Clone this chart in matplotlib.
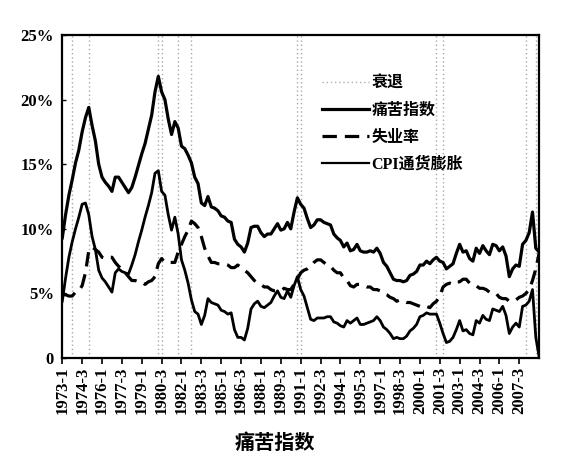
import matplotlib
matplotlib.use("Agg")
import matplotlib.pyplot as plt
from matplotlib.lines import Line2D
from matplotlib.ticker import FuncFormatter

plt.rcParams['font.family'] = ['Liberation Serif', 'Noto Sans CJK SC', 'DejaVu Sans']

# quarterly data, 1973-1 .. 2009-1
start_year, end_year = 1973, 2009
quarters = [f"{y}-{q}" for y in range(start_year, end_year + 1) for q in range(1, 5)][:145]

# unemployment rate (%)
unemployment = [
    4.9, 4.9, 4.8, 4.8,   5.1, 5.2, 5.6, 6.6,   8.3, 8.6, 8.4, 8.2,   7.8, 7.7, 7.8, 7.8,
    7.4, 7.1, 6.9, 6.6,   6.3, 6.0, 6.0, 5.9,   5.9, 5.7, 5.9, 6.0,   6.3, 7.3, 7.7, 7.4,
    7.4, 7.4, 7.4, 8.2,   8.8, 9.4, 9.9, 10.6,  10.4, 10.1, 9.4, 8.5,  7.9, 7.4, 7.4, 7.3,
    7.3, 7.3, 7.2, 7.0,   7.0, 7.2, 7.0, 6.8,   6.6, 6.3, 6.0, 5.8,   5.7, 5.5, 5.5, 5.3,
    5.2, 5.2, 5.2, 5.4,   5.3, 5.3, 5.7, 6.1,   6.6, 6.8, 6.9, 7.1,   7.4, 7.6, 7.6, 7.4,
    7.2, 7.1, 6.8, 6.6,   6.6, 6.2, 6.0, 5.6,   5.5, 5.7, 5.7, 5.6,   5.5, 5.5, 5.3, 5.3,
    5.2, 5.0, 4.9, 4.7,   4.6, 4.4, 4.5, 4.4,   4.3, 4.3, 4.2, 4.1,   4.0, 3.9, 4.0, 3.9,
    4.2, 4.4, 4.8, 5.5,   5.7, 5.8, 5.7, 5.9,   5.9, 6.1, 6.1, 5.8,   5.7, 5.6, 5.4, 5.4,
    5.3, 5.1, 5.0, 5.0,   4.7, 4.6, 4.6, 4.4,   4.5, 4.5, 4.7, 4.8,   5.0, 5.3, 6.0, 6.9,
    8.1,
]

# CPI inflation (%)
cpi = [
    4.4, 6.2, 7.8, 9.0,   10.0, 10.9, 11.9, 12.0,  11.1, 9.4, 8.4, 6.8,   6.2, 5.9, 5.5, 5.1,
    6.6, 6.9, 6.7, 6.6,   6.5, 7.2, 8.0, 9.0,   9.9, 10.9, 11.8, 12.8,  14.3, 14.5, 12.9, 12.6,
    11.1, 9.9, 10.9, 9.6,  7.6, 6.8, 5.8, 4.5,   3.6, 3.4, 2.6, 3.3,   4.6, 4.3, 4.2, 4.1,
    3.7, 3.6, 3.4, 3.5,   2.2, 1.6, 1.6, 1.4,   2.3, 3.8, 4.2, 4.4,   4.0, 3.9, 4.1, 4.3,
    4.8, 5.2, 4.7, 4.6,   5.2, 4.7, 5.6, 6.3,   5.3, 4.8, 3.9, 3.0,   2.9, 3.1, 3.1, 3.1,
    3.2, 3.2, 2.8, 2.7,   2.5, 2.4, 2.9, 2.7,   2.9, 3.1, 2.6, 2.6,   2.7, 2.8, 2.9, 3.2,
    2.9, 2.4, 2.2, 1.9,   1.5, 1.6, 1.5, 1.5,   1.7, 2.1, 2.3, 2.6,   3.2, 3.3, 3.5, 3.4,
    3.4, 3.4, 2.7, 1.9,   1.2, 1.3, 1.6, 2.2,   2.9, 2.1, 2.2, 1.9,   1.8, 2.9, 2.7, 3.3,
    3.0, 2.9, 3.8, 3.7,   3.6, 4.0, 3.3, 1.9,   2.4, 2.7, 2.4, 4.0,   4.1, 4.4, 5.3, 1.6,
    0.1,
]

# misery index (%)
misery = [
    9.3, 11.1, 12.6, 13.8,  15.1, 16.1, 17.5, 18.6,  19.4, 18.0, 16.8, 15.0,  14.0, 13.6, 13.3, 12.9,
    14.0, 14.0, 13.6, 13.2,  12.8, 13.2, 14.0, 14.9,  15.8, 16.6, 17.7, 18.8,  20.6, 21.8, 20.6, 20.0,
    18.5, 17.3, 18.3, 17.8,  16.4, 16.2, 15.7, 15.1,  14.0, 13.5, 12.0, 11.8,  12.5, 11.7, 11.6, 11.4,
    11.0, 10.9, 10.6, 10.5,  9.2, 8.8, 8.6, 8.2,   8.9, 10.1, 10.2, 10.2,  9.7, 9.4, 9.6, 9.6,
    10.0, 10.4, 9.9, 10.0,  10.5, 10.0, 11.3, 12.4,  11.9, 11.6, 10.8, 10.1,  10.3, 10.7, 10.7, 10.5,
    10.4, 10.3, 9.6, 9.3,   9.1, 8.6, 8.9, 8.3,   8.4, 8.8, 8.3, 8.2,   8.2, 8.3, 8.2, 8.5,
    8.1, 7.4, 7.1, 6.6,   6.1, 6.0, 6.0, 5.9,   6.0, 6.4, 6.5, 6.7,   7.2, 7.2, 7.5, 7.3,
    7.6, 7.8, 7.5, 7.4,   6.9, 7.1, 7.3, 8.1,   8.8, 8.2, 8.3, 7.7,   7.5, 8.5, 8.1, 8.7,
    8.3, 8.0, 8.8, 8.7,   8.3, 8.6, 7.9, 6.3,   6.9, 7.2, 7.1, 8.8,   9.1, 9.7, 11.3, 8.5,
    8.2,
]

# recessions (first and last quarter)
recessions = [("1973-4", "1975-1"), ("1980-2", "1980-3"), ("1981-4", "1982-4"),
              ("1990-4", "1991-1"), ("2001-2", "2001-4"), ("2008-1", "2008-4")]

x = list(range(len(quarters)))

fig = plt.figure(figsize=(5.61, 4.73), dpi=100)
ax = fig.add_axes([0.111, 0.243, 0.850, 0.683])

# recession bands drawn as dotted grey edges
for a, b in recessions:
    for q in (a, b):
        ax.axvline(quarters.index(q), color='#a8a8a8', linestyle=(0, (1, 2)), linewidth=1.0, zorder=1)

ax.plot(x, misery, color='black', linewidth=2.3, zorder=3)
ax.plot(x, unemployment, color='black', linewidth=2.3, linestyle=(0, (4.5, 2.5)), zorder=3)
ax.plot(x, cpi, color='black', linewidth=2.0, zorder=3)

ax.set_xlim(0, len(quarters) - 1)
ax.set_ylim(0, 25)

ticks = x[::6][:24]
ax.set_xticks(ticks)
ax.set_xticklabels([quarters[i] for i in ticks], rotation=90, fontsize=12, fontweight='bold')
ax.tick_params(axis='x', direction='out', length=4, width=1.2, pad=2)

ax.set_yticks([0, 5, 10, 15, 20, 25])
ax.yaxis.set_major_formatter(FuncFormatter(lambda v, p: "0" if v == 0 else f"{int(v)}%"))
ax.tick_params(axis='y', direction='in', length=3, width=1.0, labelsize=12, pad=6)
for t in ax.get_yticklabels():
    t.set_fontweight('bold')

for s in ax.spines.values():
    s.set_linewidth(1.6)
    s.set_color('black')

handles = [
    Line2D([], [], color='#b0b0b0', linestyle=(0, (1, 2)), linewidth=1.0),
    Line2D([], [], color='black', linewidth=2.3),
    Line2D([], [], color='black', linewidth=2.3, linestyle=(0, (4.5, 2.5))),
    Line2D([], [], color='black', linewidth=1.6),
]
labels = ["衰退", "痛苦指数", "失业率", "CPI通货膨胀"]
leg = ax.legend(handles, labels, loc='upper left', bbox_to_anchor=(0.515, 0.92), frameon=False,
                handlelength=2.9, handletextpad=0.2, labelspacing=0.7,
                prop={'family': ['Liberation Serif', 'Noto Sans CJK SC'], 'weight': 'bold', 'size': 11.5})

fig.text(0.49, 0.065, "痛苦指数", ha='center', va='center', fontsize=14.5, fontweight='bold',
         family=['Noto Sans CJK SC', 'DejaVu Sans'])

fig.savefig("out.png", dpi=100)
